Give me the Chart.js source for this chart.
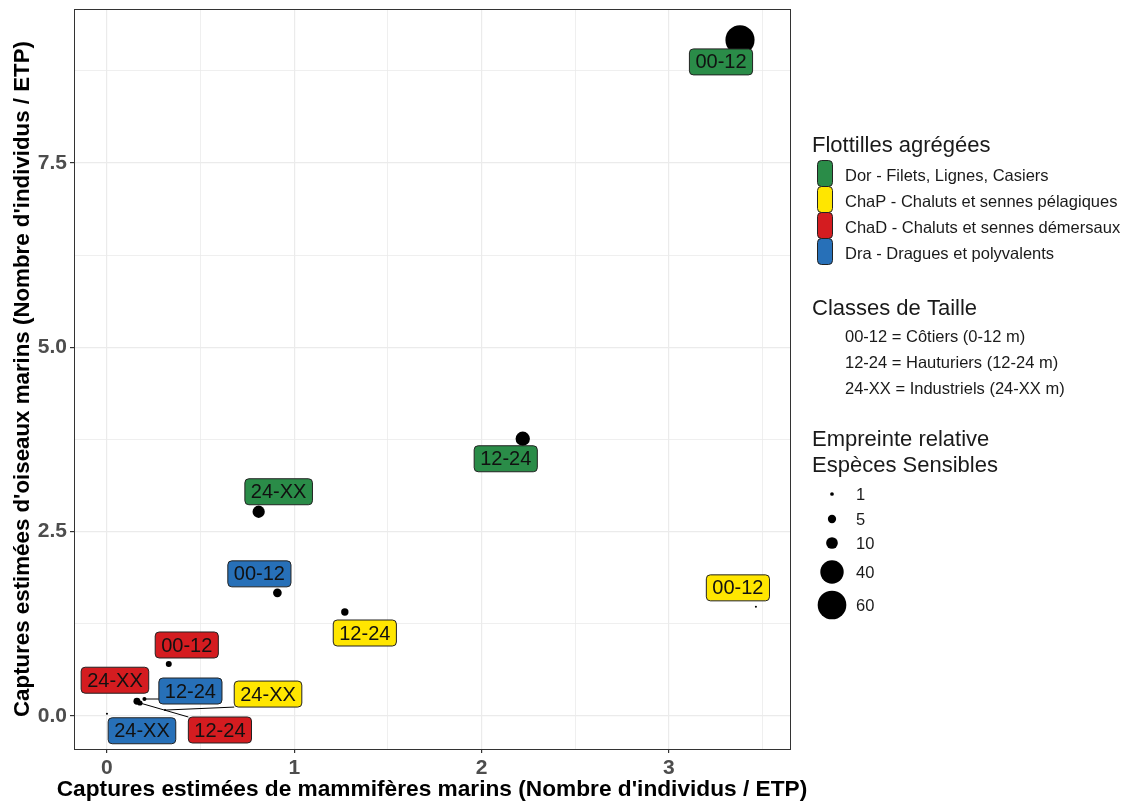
<!DOCTYPE html>
<html>
<head>
<meta charset="utf-8">
<script src="https://cdn.jsdelivr.net/npm/chart.js@4.4.1/dist/chart.umd.min.js"></script>
<style>
  html, body { margin: 0; padding: 0; background: #fff; }
  #wrap { position: relative; width: 1131px; height: 807px; }
</style>
</head>
<body>
<div id="wrap"><canvas id="chart"></canvas></div>
<script>
// ----------------------
// data
// ----------------------
const fleets = ['Dor', 'ChaP', 'ChaD', 'Dra'];
const fleetNames = [
  'Dor - Filets, Lignes, Casiers',
  'ChaP - Chaluts et sennes pélagiques',
  'ChaD - Chaluts et sennes démersaux',
  'Dra - Dragues et polyvalents'
];
const fleetColors = ['#2a8c48', '#ffe600', '#d41c20', '#2770b8'];

const sizeClasses = ['00-12', '12-24', '24-XX'];
const sizeClassNames = [
  '00-12 = Côtiers (0-12 m)',
  '12-24 = Hauturiers (12-24 m)',
  '24-XX = Industriels (24-XX m)'
];

// one value per size class (00-12, 12-24, 24-XX)
const mammalsDor  = [3.38, 2.22, 0.81];
const birdsDor    = [9.17, 3.76, 2.77];
const footDor     = [62, 15, 11];

const mammalsChaP = [3.465, 1.27, 0.31];
const birdsChaP   = [1.48, 1.41, 0.08];
const footChaP    = [0.3, 4, 0.3];

const mammalsChaD = [0.33, 0.176, 0.16];
const birdsChaD   = [0.705, 0.176, 0.20];
const footChaD    = [2.6, 2, 3.5];

const mammalsDra  = [0.91, 0.20, 0.0];
const birdsDra    = [1.67, 0.23, 0.03];
const footDra     = [5.5, 1.2, 0.3];

const sizeBreaks = [1, 5, 10, 40, 60];
const xTickLabels = ['0', '1', '2', '3'];
const yTickLabels = ['0.0', '2.5', '5.0', '7.5'];
const xTitle = "Captures estimées de mammifères marins (Nombre d'individus / ETP)";
const yTitle = "Captures estimées d'oiseaux marins (Nombre d'individus / ETP)";

// label placement (pixel offset of the label centre from its point), like ggrepel output
const labelShift = {
  Dor:  [[-19, 22], [-17, 20], [20, -20]],
  ChaP: [[-18, -19], [20, 21], [103, -16]],
  ChaD: [[18, -19], [80, 27], [-22, -21]],
  Dra:  [[-18, -19], [46, -8], [35, 17]]
};

const seriesX = [mammalsDor, mammalsChaP, mammalsChaD, mammalsDra];
const seriesY = [birdsDor, birdsChaP, birdsChaD, birdsDra];
const seriesS = [footDor, footChaP, footChaD, footDra];

// area proportional size
const radiusOf = v => 1.85 * Math.sqrt(v);

const datasets = fleets.map((f, i) => ({
  label: fleetNames[i],
  fleet: f,
  fill: fleetColors[i],
  data: sizeClasses.map((c, j) => ({
    x: seriesX[i][j], y: seriesY[i][j], r: radiusOf(seriesS[i][j]), cls: c, shift: labelShift[f][j]
  })),
  backgroundColor: '#000',
  borderWidth: 0,
  hoverRadius: 0,
  hoverBorderWidth: 0
}));

const FONT = '"Liberation Sans", Arial, sans-serif';

function roundRect(ctx, x, y, w, h, r) {
  ctx.beginPath();
  ctx.moveTo(x + r, y);
  ctx.lineTo(x + w - r, y);
  ctx.quadraticCurveTo(x + w, y, x + w, y + r);
  ctx.lineTo(x + w, y + h - r);
  ctx.quadraticCurveTo(x + w, y + h, x + w - r, y + h);
  ctx.lineTo(x + r, y + h);
  ctx.quadraticCurveTo(x, y + h, x, y + h - r);
  ctx.lineTo(x, y + r);
  ctx.quadraticCurveTo(x, y, x + r, y);
  ctx.closePath();
}

// ----------------------
// labels + segments (drawn over the points)
// ----------------------
const repelLabels = {
  id: 'repelLabels',
  afterDatasetsDraw(chart) {
    const ctx = chart.ctx;
    const xs = chart.scales.x, ys = chart.scales.y;
    ctx.save();
    ctx.font = '20px ' + FONT;
    const boxes = [];
    chart.data.datasets.forEach(ds => {
      ds.data.forEach(p => {
        const px = xs.getPixelForValue(p.x), py = ys.getPixelForValue(p.y);
        const w = ctx.measureText(p.cls).width + 12, h = 26;
        const cx = px + p.shift[0], cy = py + p.shift[1];
        boxes.push({ px, py, x: cx - w / 2, y: cy - h / 2, w, h, fill: ds.fill, text: p.cls, cx, cy });
      });
    });
    // segments first
    ctx.strokeStyle = '#000';
    ctx.lineWidth = 1;
    boxes.forEach(b => {
      const qx = Math.max(b.x, Math.min(b.px, b.x + b.w));
      const qy = Math.max(b.y, Math.min(b.py, b.y + b.h));
      const d = Math.hypot(qx - b.px, qy - b.py);
      if (d > 8.5) {
        ctx.beginPath();
        ctx.moveTo(b.px, b.py);
        ctx.lineTo(qx, qy);
        ctx.stroke();
      }
    });
    boxes.forEach(b => {
      roundRect(ctx, b.x, b.y, b.w, b.h, 4);
      ctx.fillStyle = b.fill;
      ctx.fill();
      ctx.strokeStyle = '#222';
      ctx.lineWidth = 1;
      ctx.stroke();
      ctx.fillStyle = '#111';
      ctx.textAlign = 'center';
      ctx.textBaseline = 'middle';
      ctx.fillText(b.text, b.cx, b.cy + 1);
    });
    ctx.restore();
  }
};

// ----------------------
// panel border, axis titles, legends on the right
// ----------------------
const panelAndLegend = {
  id: 'panelAndLegend',
  afterDraw(chart) {
    const ctx = chart.ctx;
    const a = chart.chartArea;
    ctx.save();
    ctx.strokeStyle = '#333';
    ctx.lineWidth = 1;
    ctx.strokeRect(Math.round(a.left) + 0.5, Math.round(a.top) + 0.5,
      Math.round(a.right - a.left), Math.round(a.bottom - a.top));

    // axis titles (no width squeeze)
    ctx.fillStyle = '#000';
    ctx.textAlign = 'center';
    ctx.textBaseline = 'middle';
    ctx.font = 'bold 22.7px ' + FONT;
    ctx.fillText(xTitle, (a.left + a.right) / 2, 790);
    ctx.save();
    ctx.translate(23, (a.top + a.bottom) / 2);
    ctx.rotate(-Math.PI / 2);
    ctx.font = 'bold 22.3px ' + FONT;
    ctx.fillText(yTitle, 0, 0);
    ctx.restore();

    const lx = 812;
    ctx.fillStyle = '#1a1a1a';
    ctx.textBaseline = 'middle';
    ctx.textAlign = 'left';

    // fleets
    ctx.font = '22px ' + FONT;
    ctx.fillText('Flottilles agrégées', lx, 146);
    ctx.font = '16.5px ' + FONT;
    fleetNames.forEach((n, i) => {
      roundRect(ctx, 817.5, 160.5 + i * 26, 15, 26, 4);
      ctx.fillStyle = fleetColors[i];
      ctx.fill();
      ctx.strokeStyle = '#222';
      ctx.stroke();
      ctx.fillStyle = '#1a1a1a';
      ctx.fillText(n, 845, 176 + i * 26);
    });

    // size classes
    ctx.font = '22px ' + FONT;
    ctx.fillText('Classes de Taille', lx, 309);
    ctx.font = '16.5px ' + FONT;
    sizeClassNames.forEach((n, i) => ctx.fillText(n, 845, 337 + i * 26));

    // bubble sizes
    ctx.font = '22px ' + FONT;
    ctx.fillText('Empreinte relative', lx, 440);
    ctx.fillText('Espèces Sensibles', lx, 466);
    ctx.font = '16.5px ' + FONT;
    const rowsY = [494, 519, 543, 572, 605];
    sizeBreaks.forEach((v, i) => {
      ctx.beginPath();
      ctx.arc(832, rowsY[i], radiusOf(v), 0, Math.PI * 2);
      ctx.fillStyle = '#000';
      ctx.fill();
      ctx.fillStyle = '#1a1a1a';
      ctx.fillText(String(v), 856, rowsY[i] + 1);
    });
    ctx.restore();
  }
};

const isMajorX = v => Math.abs(v - Math.round(v)) < 1e-6;
const isMajorY = v => Math.abs(v / 2.5 - Math.round(v / 2.5)) < 1e-6;

function noPad(s) {
  s.paddingTop = 0; s.paddingBottom = 0; s.paddingLeft = 0; s.paddingRight = 0;
}

new Chart(document.getElementById('chart'), {
  type: 'bubble',
  data: { datasets },
  options: {
    responsive: true,
    maintainAspectRatio: false,
    animation: false,
    events: [],
    layout: { autoPadding: false, padding: { left: 0, top: 9, right: 341, bottom: 0 } },
    plugins: { legend: { display: false }, tooltip: { enabled: false } },
    scales: {
      x: {
        type: 'linear',
        min: -0.176, max: 3.647,
        afterFit: s => { s.height = 58; noPad(s); },
        border: { display: false },
        grid: {
          color: '#ebebeb',
          lineWidth: c => (isMajorX(c.tick.value) ? 1.2 : 0.8),
          tickLength: 4,
          tickColor: c => (isMajorX(c.tick.value) ? '#333' : 'rgba(0,0,0,0)')
        },
        ticks: {
          stepSize: 0.5,
          includeBounds: false,
          autoSkip: false,
          maxRotation: 0,
          padding: 3,
          color: '#4d4d4d',
          font: { family: FONT, size: 21, weight: 'bold' },
          callback: v => (isMajorX(v) ? xTickLabels[Math.round(v)] : '')
        },
        title: { display: false }
      },
      y: {
        type: 'linear',
        min: -0.448, max: 9.589,
        afterFit: s => { s.width = 74; noPad(s); },
        border: { display: false },
        grid: {
          color: '#ebebeb',
          lineWidth: c => (isMajorY(c.tick.value) ? 1.2 : 0.8),
          tickLength: 4,
          tickColor: c => (isMajorY(c.tick.value) ? '#333' : 'rgba(0,0,0,0)')
        },
        ticks: {
          stepSize: 1.25,
          includeBounds: false,
          autoSkip: false,
          padding: 3,
          color: '#4d4d4d',
          font: { family: FONT, size: 21, weight: 'bold' },
          callback: v => (isMajorY(v) ? yTickLabels[Math.round(v / 2.5)] : '')
        },
        title: { display: false }
      }
    }
  },
  plugins: [repelLabels, panelAndLegend]
});
</script>
</body>
</html>
